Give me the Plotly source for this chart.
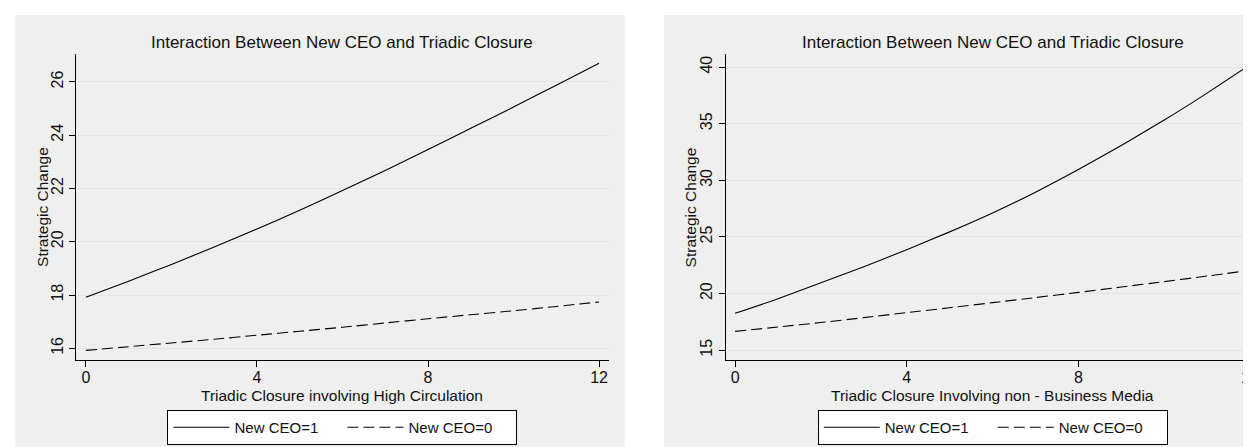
import plotly.graph_objects as go

W, H = 1251, 447

# ---------------- data ----------------
x_vals = [0, 1, 2, 3, 4, 5, 6, 7, 8, 9, 10, 11, 12]

# Left panel: Triadic Closure involving High Circulation
left_ceo1 = [17.92, 18.52, 19.15, 19.80, 20.48, 21.18, 21.92, 22.68, 23.46, 24.26, 25.06, 25.88, 26.70]
left_ceo0 = [15.92, 16.06, 16.20, 16.34, 16.49, 16.64, 16.79, 16.95, 17.11, 17.26, 17.41, 17.57, 17.74]

# Right panel: Triadic Closure Involving non - Business Media
right_ceo1 = [18.26, 19.55, 20.95, 22.38, 23.88, 25.45, 27.12, 28.95, 30.95, 33.08, 35.32, 37.70, 40.20]
right_ceo0 = [16.67, 17.05, 17.45, 17.88, 18.32, 18.75, 19.20, 19.65, 20.11, 20.58, 21.06, 21.55, 22.06]

x_ticks = [0, 4, 8, 12]
left_y_ticks = [16, 18, 20, 22, 24, 26]
right_y_ticks = [15, 20, 25, 30, 35, 40]

title_text = "Interaction Between New CEO and Triadic Closure"
y_title = "Strategic Change"
left_x_title = "Triadic Closure involving High Circulation"
right_x_title = "Triadic Closure Involving non - Business Media"
series_names = ["New CEO=1", "New CEO=0"]

# ---------------- styling ----------------
FONT = "Arial, 'Liberation Sans', Helvetica, sans-serif"
PANEL_BG = "#efefef"
GRID = "#e4e4e4"
TXT = "#111111"

def px_x(p):
    return p / W

def px_y(p):
    return 1 - p / H

# plot-area pixel boxes
L_box = (68, 602)
R_box = (718.7, 1254)
Y_box = (46, 352)

fig = go.Figure()

dash_style = "11px,5px"
LW = 1.1

fig.add_trace(go.Scatter(x=x_vals, y=left_ceo1, mode="lines", name=series_names[0],
                         line=dict(color="black", width=LW, shape="spline", smoothing=0.6),
                         xaxis="x", yaxis="y", legend="legend"))
fig.add_trace(go.Scatter(x=x_vals, y=left_ceo0, mode="lines", name=series_names[1],
                         line=dict(color="black", width=LW, dash=dash_style, shape="spline", smoothing=0.6),
                         xaxis="x", yaxis="y", legend="legend"))
fig.add_trace(go.Scatter(x=x_vals, y=right_ceo1, mode="lines", name=series_names[0],
                         line=dict(color="black", width=LW, shape="spline", smoothing=0.6),
                         xaxis="x2", yaxis="y2", legend="legend2"))
fig.add_trace(go.Scatter(x=x_vals, y=right_ceo0, mode="lines", name=series_names[1],
                         line=dict(color="black", width=LW, dash=dash_style, shape="spline", smoothing=0.6),
                         xaxis="x2", yaxis="y2", legend="legend2"))

axis_common = dict(showline=True, linecolor="black", linewidth=1, ticks="outside",
                   ticklen=6, tickcolor="black", tickwidth=1, zeroline=False,
                   tickfont=dict(family=FONT, size=16, color=TXT), mirror=False,
                   ticklabeloverflow="allow")

legend_common = dict(orientation="h", xanchor="center", y=px_y(402), yanchor="top",
                     bgcolor="white", bordercolor="black", borderwidth=1,
                     font=dict(family=FONT, size=15, color=TXT),
                     itemwidth=56, entrywidth=103, tracegroupgap=0)

fig.update_layout(
    width=W, height=H,
    margin=dict(l=0, r=0, t=0, b=0),
    paper_bgcolor="white",
    plot_bgcolor="white",
    font=dict(family=FONT, color=TXT),
    xaxis=dict(domain=[px_x(L_box[0]), px_x(L_box[1])], range=[-0.233, 12.233],
               tickvals=x_ticks, showgrid=False, anchor="y", ticklabelstandoff=-3,
               **axis_common),
    yaxis=dict(domain=[px_y(Y_box[1]), px_y(Y_box[0])], range=[15.56, 27.05],
               tickvals=left_y_ticks, showgrid=True, gridcolor=GRID, gridwidth=1,
               tickangle=-90, anchor="x", **axis_common),
    xaxis2=dict(domain=[px_x(R_box[0]), 1.0], range=[-0.223, 12.163],
                tickvals=x_ticks, showgrid=False, anchor="y2", ticklabelstandoff=-3,
                **axis_common),
    yaxis2=dict(domain=[px_y(Y_box[1]), px_y(Y_box[0])], range=[14.14, 41.15],
                tickvals=right_y_ticks, showgrid=True, gridcolor=GRID, gridwidth=1,
                tickangle=-90, anchor="x2", **axis_common),
    legend=dict(x=px_x((L_box[0] + L_box[1]) / 2), **legend_common),
    legend2=dict(x=px_x((R_box[0] + R_box[1]) / 2), **legend_common),
    shapes=[
        dict(type="rect", xref="paper", yref="paper", layer="below",
             x0=px_x(7), x1=px_x(618), y0=0, y1=px_y(7),
             fillcolor=PANEL_BG, line=dict(width=0)),
        dict(type="rect", xref="paper", yref="paper", layer="below",
             x0=px_x(657), x1=1.0, y0=0, y1=px_y(7),
             fillcolor=PANEL_BG, line=dict(width=0)),
    ],
)

annos = []
for cx, xt in [((L_box[0] + L_box[1]) / 2, left_x_title), ((R_box[0] + R_box[1]) / 2, right_x_title)]:
    annos.append(dict(text=title_text, x=px_x(cx), y=px_y(35), xref="paper", yref="paper",
                      xanchor="center", yanchor="middle", showarrow=False,
                      font=dict(family=FONT, size=17, color=TXT)))
    annos.append(dict(text=xt, x=px_x(cx), y=px_y(387), xref="paper", yref="paper",
                      xanchor="center", yanchor="middle", showarrow=False,
                      font=dict(family=FONT, size=15.5, color=TXT)))
for yx in [34, 683.5]:
    annos.append(dict(text=y_title, x=px_x(yx), y=px_y(199), xref="paper", yref="paper",
                      xanchor="center", yanchor="middle", showarrow=False, textangle=-90,
                      font=dict(family=FONT, size=15.5, color=TXT)))
fig.update_layout(annotations=annos)

fig.write_html("out.html")
